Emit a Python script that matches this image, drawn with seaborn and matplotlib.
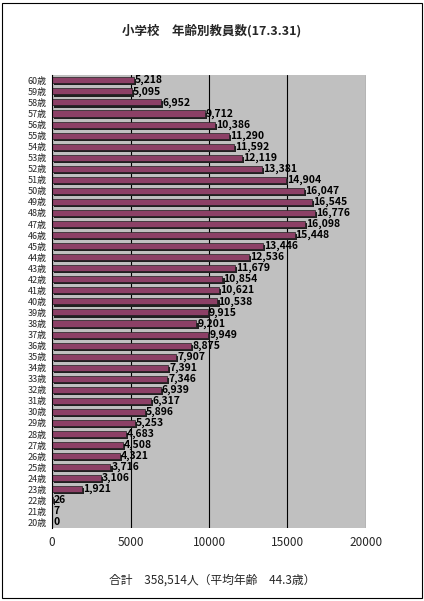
import matplotlib
matplotlib.use("Agg")
import matplotlib.pyplot as plt
import matplotlib.patheffects as pe
import seaborn as sns
import pandas as pd

ages = [f"{a}歳" for a in range(60, 19, -1)]
counts = [5218, 5095, 6952, 9712, 10386, 11290, 11592, 12119, 13381, 14904,
          16047, 16545, 16776, 16098, 15448, 13446, 12536, 11679, 10854, 10621,
          10538, 9915, 9201, 9949, 8875, 7907, 7391, 7346, 6939, 6317,
          5896, 5253, 4683, 4508, 4321, 3716, 3106, 1921, 26, 7, 0]
title = "小学校　年齢別教員数(17.3.31)"
footer = "合計　358,514人（平均年齢　44.3歳）"

df = pd.DataFrame({"age": ages, "count": counts})

sns.set_style("white")
plt.rcParams['font.family'] = ['Noto Sans CJK JP', 'DejaVu Sans']

fig = plt.figure(figsize=(4.24, 6.01), dpi=100)
fig.patches.append(plt.Rectangle((0.005, 0.005), 0.99, 0.99, transform=fig.transFigure,
                                 fill=False, edgecolor="black", linewidth=0.8))
ax = fig.add_axes([0.123, 0.1215, 0.74, 0.754])
ax.set_facecolor("#c0c0c0")

sns.barplot(data=df, y="age", x="count", orient="h", color="#993366",
            width=0.55, ax=ax, order=ages, edgecolor="#202020", linewidth=0.5)
shadow = [pe.SimplePatchShadow(offset=(1.5, -1.5), shadow_rgbFace="#202020", alpha=1.0),
          pe.Normal()]
for p in ax.patches:
    p.set_path_effects(shadow)

for i, v in enumerate(counts):
    ax.text(v + 60, i, f"{v:,}", va="center", ha="left", fontsize=7.5,
            fontweight="bold", color="black")

ax.set_xlim(0, 20000)
ax.set_xticks([0, 5000, 10000, 15000, 20000])
ax.xaxis.grid(True, color="black", linewidth=0.8, linestyle="-")
ax.set_axisbelow(True)
ax.set_xlabel("")
ax.set_ylabel("")
ax.tick_params(axis="y", labelsize=6.5, length=3, pad=1)
ax.tick_params(axis="x", labelsize=8.5, length=0, pad=6)
for s in ax.spines.values():
    s.set_visible(False)
ax.spines["left"].set_visible(True)
ax.spines["left"].set_color("black")

fig.text(0.5, 0.948, title, ha="center", va="center", fontsize=9, fontweight="bold")
fig.text(0.5, 0.035, footer, ha="center", va="center", fontsize=8.5)

fig.savefig("out.png", dpi=100)
